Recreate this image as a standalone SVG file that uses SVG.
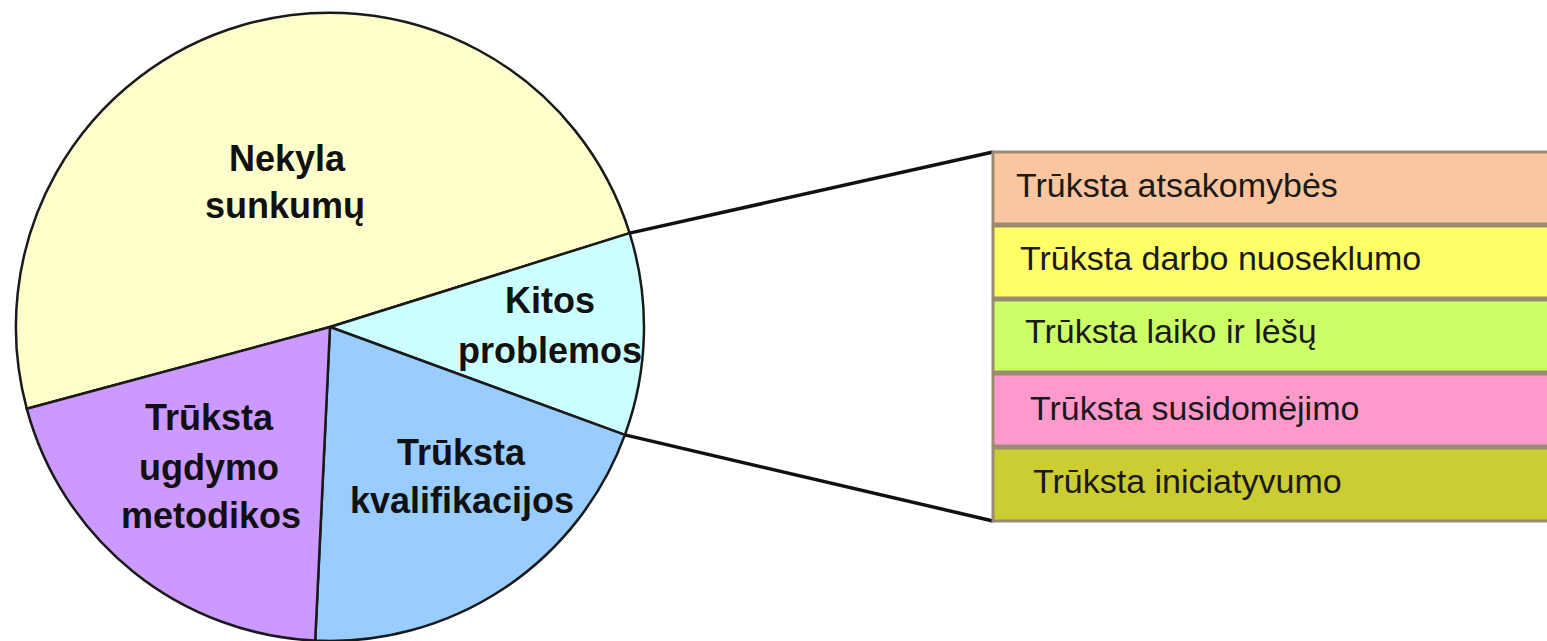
<svg xmlns="http://www.w3.org/2000/svg" width="1547" height="641" viewBox="0 0 1547 641">
<style>
.slice{stroke:#1a1a1a;stroke-width:2.5;stroke-linejoin:round}
.pl{font-family:"Liberation Sans",Arial,sans-serif;font-weight:bold;font-size:36px;fill:#111;text-anchor:middle}
.bar{stroke:#9a8a70;stroke-width:3}
.bl{font-family:"Liberation Sans",Arial,sans-serif;font-size:34px;fill:#1a1a1a}
.conn{stroke:#111;stroke-width:3.5;fill:none}
</style>
<rect width="1547" height="641" fill="#ffffff"/>
<g id="pie">
<g id="slice-nekyla">
<path class="slice" fill="#FFFFCC" d="M330,327 L26.8,408.8 A314,314 0 0 1 629.6,233.1 Z"/>
<text class="pl" x="287" y="171">Nekyla</text>
<text class="pl" x="285" y="218">sunkumų</text>
</g>
<g id="slice-kitos">
<path class="slice" fill="#CCFFFF" d="M330,327 L629.6,233.1 A314,314 0 0 1 624.9,434.9 Z"/>
<text class="pl" x="550" y="313">Kitos</text>
<text class="pl" x="550" y="363">problemos</text>
</g>
<g id="slice-kvalifikacijos">
<path class="slice" fill="#99CCFF" d="M330,327 L624.9,434.9 A314,314 0 0 1 315.2,640.6 Z"/>
<text class="pl" x="461" y="465">Trūksta</text>
<text class="pl" x="462" y="513">kvalifikacijos</text>
</g>
<g id="slice-metodikos">
<path class="slice" fill="#CC99FF" d="M330,327 L315.2,640.6 A314,314 0 0 1 26.8,408.8 Z"/>
<text class="pl" x="209" y="430">Trūksta</text>
<text class="pl" x="209" y="480">ugdymo</text>
<text class="pl" x="211" y="528">metodikos</text>
</g>
</g>
<g id="connectors">
<line class="conn" x1="629.6" y1="233.1" x2="993" y2="152"/>
<line class="conn" x1="624.9" y1="434.9" x2="993" y2="521"/>
</g>
<g id="bar-atsakomybes">
<rect class="bar" x="993" y="152" width="570" height="72" fill="#F9C6A0"/>
<text class="bl" x="1016" y="197">Trūksta atsakomybės</text>
</g>
<g id="bar-nuoseklumo">
<rect class="bar" x="993" y="226" width="570" height="72" fill="#FFFF66"/>
<text class="bl" x="1020" y="270">Trūksta darbo nuoseklumo</text>
</g>
<g id="bar-laiko">
<rect class="bar" x="993" y="300" width="570" height="72" fill="#CCFF66"/>
<text class="bl" x="1025" y="343">Trūksta laiko ir lėšų</text>
</g>
<g id="bar-susidomejimo">
<rect class="bar" x="993" y="374" width="570" height="72" fill="#FF99CC"/>
<text class="bl" x="1030" y="420">Trūksta susidomėjimo</text>
</g>
<g id="bar-iniciatyvumo">
<rect class="bar" x="993" y="448" width="570" height="73" fill="#CCCC33"/>
<text class="bl" x="1033" y="493">Trūksta iniciatyvumo</text>
</g>
</svg>
